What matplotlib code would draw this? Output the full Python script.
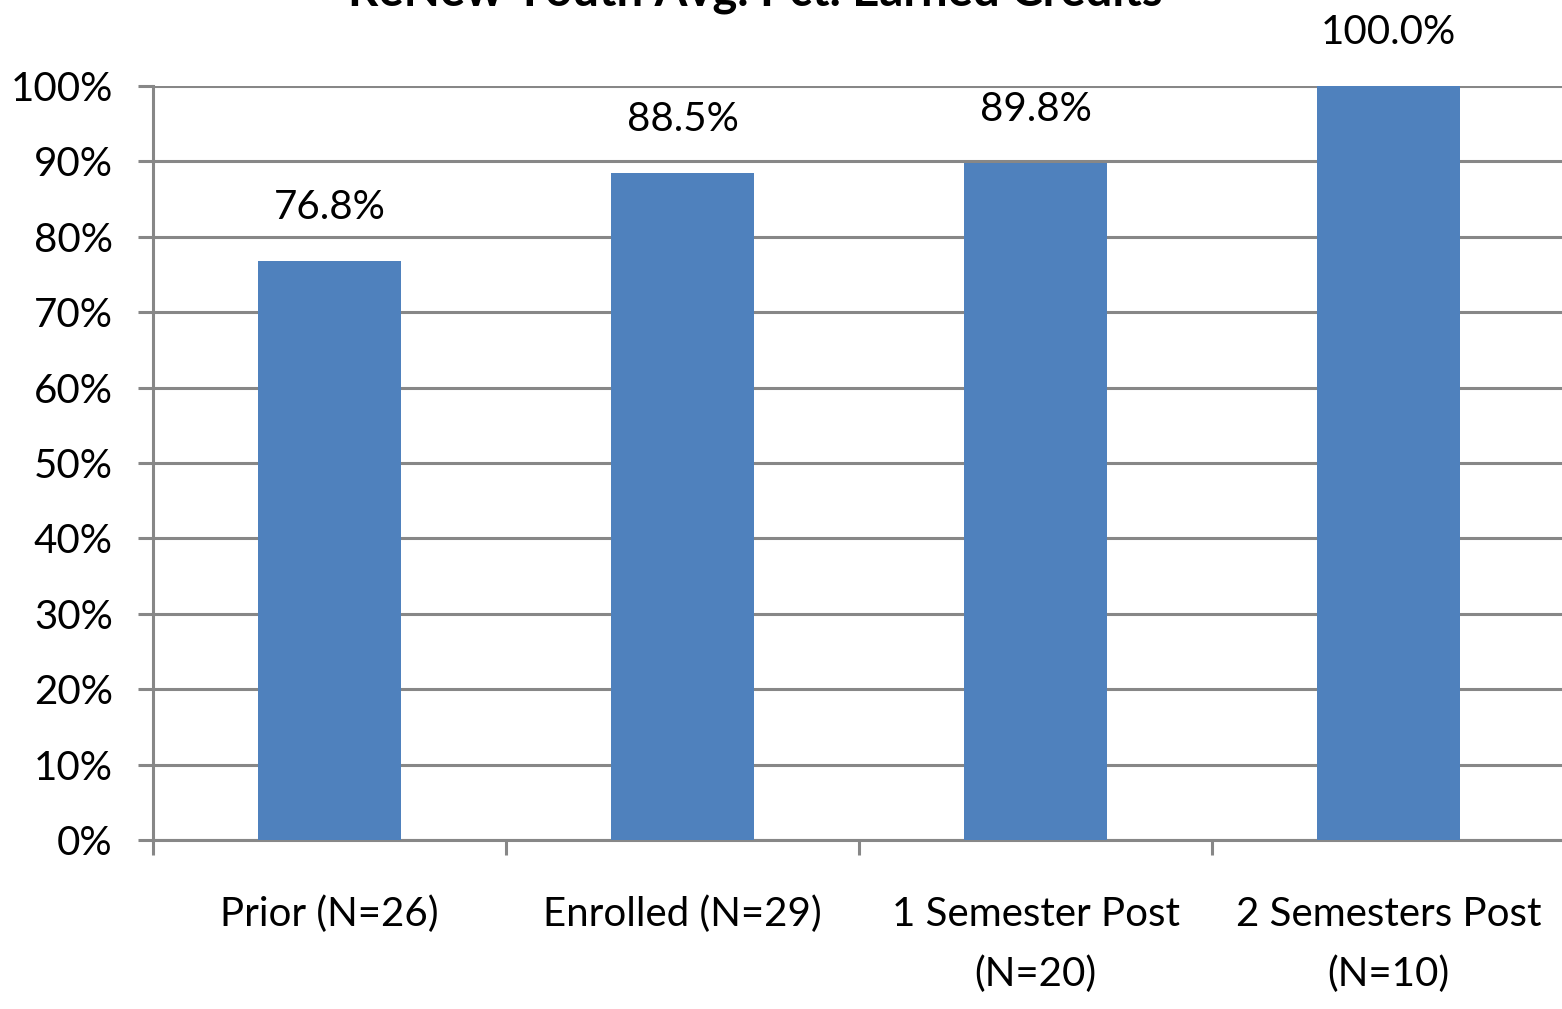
import matplotlib
matplotlib.use("Agg")
import matplotlib.pyplot as plt
from matplotlib.ticker import MultipleLocator, FixedLocator, PercentFormatter

# data
categories = ["Prior (N=26)", "Enrolled (N=29)", "1 Semester Post\n(N=20)", "2 Semesters Post\n(N=10)"]
values = [76.8, 88.5, 89.8, 100.0]
title = "ReNew Youth Avg. Pct. Earned Credits"

BAR = "#4F81BD"
GRID = "#878787"
FONT = "Lato"

fig = plt.figure(figsize=(15.62, 10.09), dpi=100)
ax = fig.add_axes([153 / 1562, 1 - 840 / 1009, 1 - 153 / 1562 + 0.002, (840 - 86) / 1009])

x = range(len(categories))
ax.bar(x, values, width=0.406, color=BAR, zorder=3)

ax.set_xlim(-0.5, len(categories) - 0.5)
ax.set_ylim(0, 100)

ax.yaxis.set_major_locator(MultipleLocator(10))
ax.yaxis.set_major_formatter(PercentFormatter(decimals=0))
ax.grid(axis="y", color=GRID, linewidth=2.2, zorder=0)

for s in ["top", "right"]:
    ax.spines[s].set_visible(False)
for s in ["left", "bottom"]:
    ax.spines[s].set_color(GRID)
    ax.spines[s].set_linewidth(2.2)

ax.set_xticks(list(x))
ax.set_xticklabels(categories, fontsize=29, family=FONT, linespacing=1.75)
ax.xaxis.set_minor_locator(FixedLocator([i - 0.5 for i in range(len(categories) + 1)]))
ax.tick_params(axis="x", which="major", length=0, pad=40)
ax.tick_params(axis="x", which="minor", length=11, width=2.2, color=GRID, direction="out")
ax.tick_params(axis="y", length=11, width=2.2, color=GRID, pad=18, labelsize=29)
for lbl in ax.get_yticklabels():
    lbl.set_family(FONT)

for i, v in enumerate(values):
    ax.annotate(f"{v:.1f}%", (i, v), xytext=(0, 25), textcoords="offset points",
                ha="center", va="bottom", fontsize=29, family=FONT, annotation_clip=False)

fig.text(755 / 1562, 1.008, title, ha="center", va="center",
         fontsize=34, fontweight="bold", family=FONT)

fig.savefig("out.png", dpi=100, facecolor="white")
